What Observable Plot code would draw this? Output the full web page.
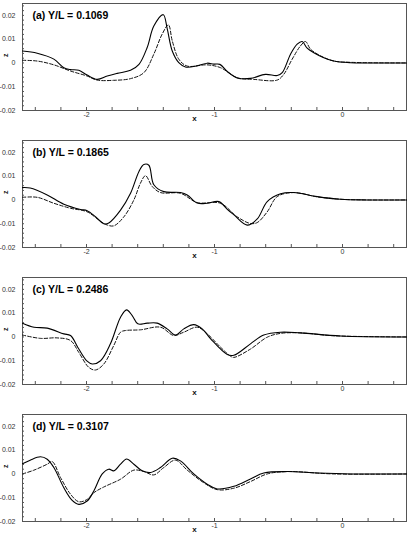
<!DOCTYPE html>
<html>
<head>
<meta charset="utf-8">
<script src="https://cdn.jsdelivr.net/npm/d3@7"></script>
<script src="https://cdn.jsdelivr.net/npm/@observablehq/plot@0.6"></script>
<style>
  html, body { margin: 0; padding: 0; background: white; }
  #chart { width: 409px; height: 546px; overflow: hidden; }
  #chart svg { display: block; }
</style>
</head>
<body>
<div id="chart"></div>
<script>
// ---- panel labels ----
const panelLabels = ["(a) Y/L = 0.1069", "(b) Y/L = 0.1865", "(c) Y/L = 0.2486", "(d) Y/L = 0.3107"];

// ---- tick values ----
const xMajorTicks = [-2, -1, 0];
const xMinorTicks = [-2.4, -2.2, -2.0, -1.8, -1.6, -1.4, -1.2, -1.0, -0.8, -0.6, -0.4, -0.2, 0.0, 0.2, 0.4];
const yMajorTicks = [-0.02, -0.01, 0, 0.01, 0.02];
const yMinorTicks = [-0.018, -0.016, -0.014, -0.012, -0.01, -0.008, -0.006, -0.004, -0.002, 0, 0.002, 0.004, 0.006, 0.008, 0.01, 0.012, 0.014, 0.016, 0.018, 0.02, 0.022, 0.024];

// ---- panel (a) ----
const aSolidX = [-2.5, -2.385, -2.255, -2.177, -2.125, -2.06, -1.995, -1.917, -1.838, -1.76, -1.656, -1.59, -1.526, -1.474, -1.40, -1.37, -1.33, -1.279, -1.227, -1.135, -1.057, -1.005, -0.958, -0.9, -0.823, -0.719, -0.602, -0.51, -0.471, -0.406, -0.354, -0.315, -0.276, -0.224, -0.146, -0.068, 0.0625, 0.19, 0.5];
const aSolidZ = [0.0050, 0.0041, 0.0016, -0.0020, -0.0028, -0.0031, -0.0051, -0.0069, -0.0055, -0.0044, -0.0031, -0.0006, 0.0065, 0.0155, 0.0203, 0.0145, 0.0050, 0.0001, -0.0017, -0.0012, -0.0001, -0.0005, -0.0006, -0.0036, -0.0063, -0.0065, -0.0048, -0.0053, -0.0041, 0.0037, 0.0079, 0.0090, 0.0062, 0.0043, 0.0022, 0.0008, 0.0001, 0, 0];
const aDashX = [-2.5, -2.385, -2.255, -2.125, -1.995, -1.917, -1.786, -1.656, -1.552, -1.474, -1.409, -1.36, -1.33, -1.279, -1.214, -1.057, -0.953, -0.823, -0.695, -0.51, -0.459, -0.393, -0.328, -0.289, -0.25, -0.172, -0.068, 0.1, 0.5];
const aDashZ = [0.0011, 0.0008, -0.0008, -0.0034, -0.0055, -0.0072, -0.0073, -0.0066, -0.0041, 0.0037, 0.0121, 0.0160, 0.0093, 0.0016, -0.0013, -0.0008, -0.0020, -0.0062, -0.0069, -0.0072, -0.0048, 0.0016, 0.0072, 0.0090, 0.0058, 0.0030, 0.0008, 0.0002, 0];

// ---- panel (b) ----
const bSolidX = [-2.5, -2.44, -2.307, -2.177, -2.047, -1.995, -1.93, -1.865, -1.826, -1.734, -1.656, -1.59, -1.552, -1.513, -1.474, -1.396, -1.266, -1.213, -1.135, -1.057, -0.966, -0.9, -0.85, -0.745, -0.666, -0.588, -0.484, -0.38, -0.198, -0.016, 0.19, 0.5];
const bSolidZ = [0.0052, 0.0050, 0.0021, -0.0018, -0.0040, -0.0045, -0.0070, -0.0100, -0.0097, -0.0043, 0.0028, 0.0120, 0.0149, 0.0146, 0.0064, 0.0035, 0.0031, 0.0021, -0.0013, -0.0014, -0.0007, -0.0040, -0.0062, -0.0106, -0.0080, -0.0007, 0.0026, 0.0031, 0.0014, 0.0003, 0, 0];
const bDashX = [-2.5, -2.385, -2.255, -2.125, -1.995, -1.89, -1.84, -1.787, -1.708, -1.63, -1.578, -1.539, -1.487, -1.422, -1.266, -1.135, -0.953, -0.823, -0.719, -0.666, -0.588, -0.51, -0.38, -0.198, -0.016, 0.19, 0.5];
const bDashZ = [0.0011, 0.0011, -0.0014, -0.0035, -0.0050, -0.0090, -0.0105, -0.0109, -0.0071, 0.0000, 0.0071, 0.0102, 0.0057, 0.0031, 0.0028, -0.0011, -0.0014, -0.0071, -0.0099, -0.0095, -0.0050, 0.0014, 0.0031, 0.0013, 0.0003, 0, 0];

// ---- panel (c) ----
const cSolidX = [-2.5, -2.41, -2.307, -2.177, -2.125, -2.06, -1.995, -1.955, -1.89, -1.813, -1.734, -1.687, -1.643, -1.599, -1.526, -1.448, -1.37, -1.305, -1.24, -1.162, -1.096, -1.03, -0.9, -0.849, -0.719, -0.615, -0.484, -0.328, -0.016, 0.5];
const cSolidZ = [0.0058, 0.0041, 0.0037, 0.0013, 0.0006, -0.0051, -0.0102, -0.0114, -0.0100, -0.0029, 0.0083, 0.0114, 0.0090, 0.0055, 0.0058, 0.0058, 0.0034, 0.0008, 0.0034, 0.0052, 0.0034, -0.0008, -0.0074, -0.0077, -0.0029, 0.0008, 0.0020, 0.0017, 0.0004, 0];
const cDashX = [-2.5, -2.36, -2.23, -2.125, -2.06, -1.982, -1.93, -1.865, -1.787, -1.734, -1.695, -1.578, -1.422, -1.318, -1.24, -1.135, -1.057, -0.953, -0.875, -0.849, -0.719, -0.588, -0.484, -0.328, -0.068, 0.5];
const cDashZ = [0.0008, -0.0006, -0.0004, -0.0015, -0.0065, -0.0128, -0.0139, -0.0114, -0.0036, 0.0020, 0.0027, 0.0030, 0.0041, 0.0006, 0.0020, 0.0041, 0.0013, -0.0043, -0.0081, -0.0086, -0.0051, -0.0001, 0.0015, 0.0017, 0.0005, 0];

// ---- panel (d) ----
const dSolidX = [-2.5, -2.44, -2.36, -2.307, -2.255, -2.177, -2.112, -2.06, -1.995, -1.943, -1.877, -1.826, -1.787, -1.734, -1.687, -1.63, -1.565, -1.5, -1.422, -1.33, -1.266, -1.162, -1.057, -0.979, -0.849, -0.719, -0.615, -0.432, -0.198, 0.0625, 0.5];
const dSolidZ = [0.0043, 0.0058, 0.0072, 0.0062, 0.0027, -0.0058, -0.0111, -0.0128, -0.0114, -0.0072, 0.0000, 0.0020, 0.0013, 0.0041, 0.0063, 0.0041, 0.0013, 0.0006, 0.0027, 0.0066, 0.0055, 0.0000, -0.0043, -0.0063, -0.0052, -0.0021, 0.0004, 0.0010, 0.0004, 0, 0];
const dDashX = [-2.5, -2.41, -2.307, -2.268, -2.203, -2.125, -2.06, -1.995, -1.943, -1.865, -1.734, -1.63, -1.552, -1.474, -1.396, -1.305, -1.213, -1.084, -0.979, -0.849, -0.719, -0.588, -0.432, -0.068, 0.5];
const dDashZ = [0.0000, 0.0016, 0.0041, 0.0052, -0.0015, -0.0085, -0.0117, -0.0107, -0.0079, -0.0055, -0.0022, 0.0016, 0.0010, -0.0004, 0.0027, 0.0058, 0.0016, -0.0037, -0.0066, -0.0060, -0.0032, 0.0000, 0.0010, 0.0000, 0];

const panels = [
  [aSolidX, aSolidZ, aDashX, aDashZ],
  [bSolidX, bSolidZ, bDashX, bDashZ],
  [cSolidX, cSolidZ, cDashX, cDashZ],
  [dSolidX, dSolidZ, dDashX, dDashZ]
];

const font = "'Liberation Sans', Arial, Helvetica, sans-serif";
const heights = [137, 137, 137, 135];

function fmt(d) {
  const r = Math.round(d * 1000) / 1000;
  return String(r);
}

function makePanel(i) {
  const [sx, sz, dx, dz] = panels[i];
  const solid = sx.map((x, k) => ({x, z: sz[k]}));
  const dashed = dx.map((x, k) => ({x, z: dz[k]}));
  return Plot.plot({
    width: 409,
    height: heights[i],
    marginLeft: 22,
    marginRight: 3,
    marginTop: 3,
    marginBottom: heights[i] - 110,
    style: {fontFamily: font, fontSize: "7px", color: "#333", background: "white", overflow: "visible"},
    x: {domain: [-2.5, 0.5]},
    y: {domain: [-0.02, 0.025]},
    marks: [
      Plot.axisX({ticks: xMinorTicks, tickSize: 3, dy: -3, fill: "none", stroke: "#555", label: null}),
      Plot.axisX({ticks: xMajorTicks, tickSize: 0, tickPadding: 2, tickFormat: fmt, label: null, fill: "#333"}),
      Plot.axisY({ticks: yMinorTicks, tickSize: 2, dx: 2, fill: "none", stroke: "#555", label: null}),
      Plot.axisY({ticks: yMajorTicks, tickSize: 0, tickPadding: 7, tickFormat: fmt, label: null, fill: "#333"}),
      Plot.frame({stroke: "#555", strokeWidth: 1}),
      Plot.line(dashed, {x: "x", y: "z", curve: "catmull-rom", stroke: "#111", strokeWidth: 1, strokeDasharray: "3.5,2"}),
      Plot.line(solid, {x: "x", y: "z", curve: "catmull-rom", stroke: "#000", strokeWidth: 1.1}),
      Plot.text([panelLabels[i]], {frameAnchor: "top-left", dx: 10, dy: 12, text: d => d, textAnchor: "start", lineAnchor: "middle", fontSize: 10.5, fontWeight: "bold", fill: "#000"}),
      Plot.text(["x"], {frameAnchor: "bottom", dx: -20, dy: 8, text: d => d, lineAnchor: "middle", fontSize: 8, fontWeight: "bold", fill: "#111"}),
      Plot.text(["z"], {frameAnchor: "left", dx: -17, text: d => d, rotate: -90, lineAnchor: "middle", fontSize: 7, fontWeight: "bold", fill: "#111"})
    ]
  });
}

const chart = document.getElementById("chart");
for (let i = 0; i < 4; i++) chart.appendChild(makePanel(i));
</script>
</body>
</html>
